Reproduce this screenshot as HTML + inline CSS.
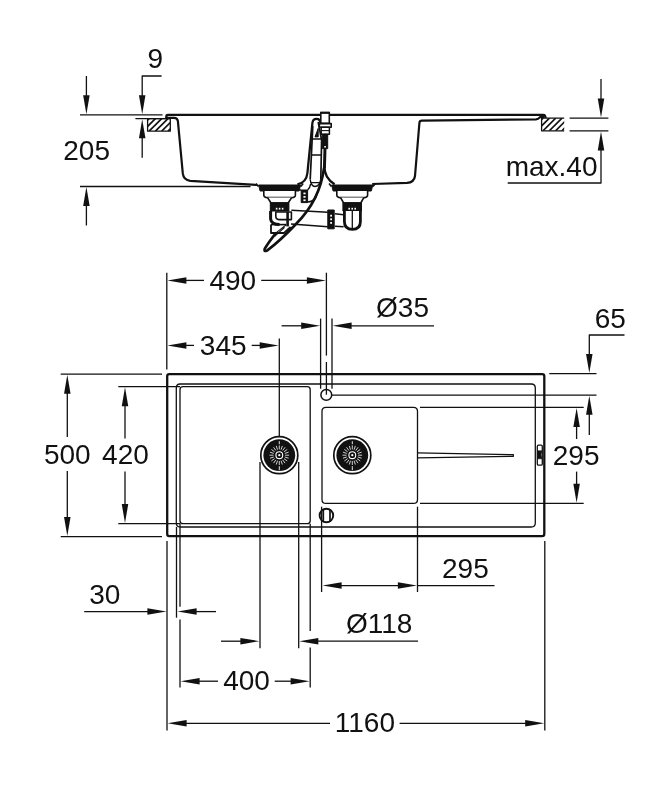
<!DOCTYPE html>
<html><head><meta charset="utf-8"><title>Sink dimensions</title>
<style>
html,body{margin:0;padding:0;background:#fff;}
body{width:667px;height:800px;overflow:hidden;}
svg{display:block;will-change:transform;}
text{font-family:"Liberation Sans",sans-serif;font-size:28px;fill:#111111;stroke:none;}
</style></head><body>
<svg width="667" height="800" viewBox="0 0 667 800" stroke="#111111" fill="none" stroke-linecap="butt" stroke-linejoin="round">
<line x1="86.4" y1="76" x2="86.4" y2="96" stroke-width="1.3" />
<polygon points="86.40,114.20 83.15,95.20 89.65,95.20" fill="#111111" stroke="none"/>
<line x1="80" y1="114.8" x2="162.5" y2="114.8" stroke-width="1.3" />
<line x1="80" y1="186.5" x2="250.5" y2="186.5" stroke-width="1.3" />
<polygon points="86.40,187.10 83.15,206.10 89.65,206.10" fill="#111111" stroke="none"/>
<line x1="86.4" y1="205" x2="86.4" y2="225.5" stroke-width="1.3" />
<text x="63.25" y="159.88">205</text>
<text x="147.5" y="68.44">9</text>
<path d="M161.6 76H142.2V96" stroke-width="1.3" fill="none" />
<polygon points="142.20,114.20 138.95,95.20 145.45,95.20" fill="#111111" stroke="none"/>
<line x1="135.4" y1="118.6" x2="170" y2="118.6" stroke-width="1.3" />
<polygon points="142.20,119.20 138.95,138.20 145.45,138.20" fill="#111111" stroke="none"/>
<line x1="142.2" y1="137" x2="142.2" y2="157.7" stroke-width="1.3" />
<clipPath id="c147"><rect x="147.6" y="118.6" width="22.700000000000017" height="12.599999999999994"/></clipPath>
<g clip-path="url(#c147)">
<line x1="136.5" y1="131.2" x2="149.1" y2="118.6" stroke-width="1.65" />
<line x1="142.8" y1="131.2" x2="155.4" y2="118.6" stroke-width="1.65" />
<line x1="149.1" y1="131.2" x2="161.7" y2="118.6" stroke-width="1.65" />
<line x1="155.4" y1="131.2" x2="168.0" y2="118.6" stroke-width="1.65" />
<line x1="161.7" y1="131.2" x2="174.3" y2="118.6" stroke-width="1.65" />
<line x1="168.0" y1="131.2" x2="180.6" y2="118.6" stroke-width="1.65" />
<line x1="174.3" y1="131.2" x2="186.9" y2="118.6" stroke-width="1.65" />
<line x1="180.6" y1="131.2" x2="193.2" y2="118.6" stroke-width="1.65" />
</g>
<path d="M170.3 118.6H147.6V131.2H170.3Z" stroke-width="1.3" fill="none" />
<line x1="601" y1="79" x2="601" y2="99" stroke-width="1.3" />
<polygon points="601.00,117.50 597.75,98.50 604.25,98.50" fill="#111111" stroke="none"/>
<line x1="569.6" y1="118.1" x2="608.4" y2="118.1" stroke-width="1.3" />
<line x1="569.6" y1="130.8" x2="608.4" y2="130.8" stroke-width="1.3" />
<polygon points="601.00,131.40 597.75,150.40 604.25,150.40" fill="#111111" stroke="none"/>
<path d="M601 149V183H507.7" stroke-width="1.3" fill="none" />
<text x="505.7" y="176.0">max.40</text>
<clipPath id="c541"><rect x="541.6" y="118.1" width="22.600000000000023" height="12.700000000000017"/></clipPath>
<g clip-path="url(#c541)">
<line x1="530.4" y1="130.8" x2="543.1" y2="118.1" stroke-width="1.65" />
<line x1="536.7" y1="130.8" x2="549.4" y2="118.1" stroke-width="1.65" />
<line x1="543.0" y1="130.8" x2="555.7" y2="118.1" stroke-width="1.65" />
<line x1="549.3" y1="130.8" x2="562.0" y2="118.1" stroke-width="1.65" />
<line x1="555.6" y1="130.8" x2="568.3" y2="118.1" stroke-width="1.65" />
<line x1="561.9" y1="130.8" x2="574.6" y2="118.1" stroke-width="1.65" />
<line x1="568.2" y1="130.8" x2="580.9" y2="118.1" stroke-width="1.65" />
<line x1="574.5" y1="130.8" x2="587.2" y2="118.1" stroke-width="1.65" />
</g>
<path d="M564.2 118.1H541.6V130.8H564.2" stroke-width="1.3" fill="none" />
<path d="M166.4 118 V116 Q166.4 114.8 168 114.8 H543.2 Q545.5 114.8 545.6 118" stroke-width="2.2" fill="none" />
<path d="M166.4 116.6 V117.9 H174 Q177.4 117.9 177.9 121.2 L182.8 173.4 Q183.6 180.2 190.2 180.8 L257 185" stroke-width="2.2" fill="none" />
<path d="M297.4 184.4 Q306.4 182.6 307.4 173 L312.4 123 Q312.8 118.8 316.5 118.8 Q320.2 118.8 320.4 123" stroke-width="2.3" fill="none" />
<path d="M312.8 126.3 L310.2 179.4 M318.2 122 L321.6 140 L320.8 179.4" stroke-width="1.7" fill="none" />
<path d="M311.6 139 H321.4 M311 155 H321.2" stroke-width="1.5" fill="none" />
<path d="M315 136.9 L318.2 128.4 L318.2 136.9 Z" stroke-width="1.0" fill="#111111" />
<path d="M310.2 179.4 Q311 186.5 315 186.5 Q319.6 186.5 320.8 179.4 M311 182.6 H320" stroke-width="1.4" fill="none" />
<path d="M320.8 112.6 H329.3 V123.4 H320.8 Z" stroke-width="1.6" fill="#fff" />
<line x1="320.2" y1="112.8" x2="329.9" y2="112.8" stroke-width="2.0" />
<path d="M319.4 123.6 H331.2 V127.3 H319.4 Z" stroke-width="1.6" fill="#fff" />
<path d="M321.2 127.3 H329.4 V134.2 H321.2 Z" stroke-width="1.5" fill="#fff" />
<line x1="321.2" y1="130.6" x2="329.4" y2="130.6" stroke-width="1.1" />
<path d="M322.4 134.2 H327.7 V148.6 H322.4 Z" stroke-width="1.0" fill="#111111" />
<rect x="324.3" y="146" width="1.6" height="1.6" fill="#fff" stroke="none"/>
<path d="M325 148 L324.4 168" stroke-width="3.0" fill="none" />
<path d="M324.4 166 Q324.2 178 334.6 184.2" stroke-width="2.3" fill="none" />
<path d="M372.2 184 L407 182.9 Q414.2 182.4 415 176 L419.4 123 Q419.6 120.7 422 120.7 L536 119.3 Q538.4 119.2 539 118 Q539.6 116.9 541.6 116.9 H544.4" stroke-width="2.2" fill="none" />
<path d="M256.0 183.6 L258.40000000000003 186.4 M303.20000000000005 183.6 L300.8 186.4" stroke-width="1.6" fill="none" />
<path d="M258.6 185 H300.6 L299.1 191 H260.1 Z" stroke-width="1.0" fill="#111111" />
<path d="M263.8 191 V195 Q263.8 197.6 267.6 197.6 H291.6 Q295.40000000000003 197.6 295.40000000000003 195 V191" stroke-width="1.6" fill="#fff" />
<path d="M267.6 197.6 L271.0 203 H288.20000000000005 L291.6 197.6" stroke-width="1.6" fill="#fff" />
<path d="M270.3 202.8 H288.90000000000003 V211 H270.3 Z" stroke-width="1.0" fill="#111111" />
<rect x="275.8" y="207.8" width="1.6" height="1.8" fill="#fff" stroke="none"/>
<rect x="278.8" y="207.8" width="1.6" height="1.8" fill="#fff" stroke="none"/>
<rect x="281.8" y="207.8" width="1.6" height="1.8" fill="#fff" stroke="none"/>
<path d="M329.0 183.6 L331.40000000000003 186.4 M375.40000000000003 183.6 L373.0 186.4" stroke-width="1.6" fill="none" />
<path d="M331.6 185 H372.8 L371.3 191 H333.1 Z" stroke-width="1.0" fill="#111111" />
<path d="M336.8 191 V195 Q336.8 197.6 340.6 197.6 H363.8 Q367.6 197.6 367.6 195 V191" stroke-width="1.6" fill="#fff" />
<path d="M340.6 197.6 L343.6 203 H360.80000000000007 L363.8 197.6" stroke-width="1.6" fill="#fff" />
<path d="M342.90000000000003 202.8 H361.50000000000006 V211 H342.90000000000003 Z" stroke-width="1.0" fill="#111111" />
<rect x="348.40000000000003" y="207.8" width="1.6" height="1.8" fill="#fff" stroke="none"/>
<rect x="351.40000000000003" y="207.8" width="1.6" height="1.8" fill="#fff" stroke="none"/>
<rect x="354.40000000000003" y="207.8" width="1.6" height="1.8" fill="#fff" stroke="none"/>
<path d="M271 224.4 V233 H284 L290.6 227" stroke-width="1.8" fill="none" />
<path d="M270.6 211 V219 Q271.4 224.6 279.6 224.6" stroke-width="3.0" fill="none" />
<path d="M275.8 212 H291.4 V219.6 H279 Q275.8 219.6 275.8 216 Z" stroke-width="1.6" fill="#fff" />
<path d="M287.6 212 V226.4" stroke-width="2.6" fill="none" />
<line x1="271" y1="224.6" x2="286" y2="224.6" stroke-width="1.6" />
<path d="M291.4 210.2 L327.8 212.2 M291 224 L327.8 226.8" stroke-width="1.5" fill="none" />
<path d="M335 213.8 L343.6 214.8 M335 226.2 L343.6 226.8" stroke-width="1.5" fill="none" />
<path d="M327.8 210 H334.2 V228.8 H327.8 Z" stroke-width="1.0" fill="#111111" />
<rect x="330.2" y="214.8" width="1.8" height="1.8" fill="#fff" stroke="none"/>
<rect x="330.2" y="218.4" width="1.8" height="1.8" fill="#fff" stroke="none"/>
<rect x="330.2" y="222.0" width="1.8" height="1.8" fill="#fff" stroke="none"/>
<path d="M344.4 211 V221.5 Q344.4 229.4 352.4 229.4 Q360.4 229.4 360.4 221.5 V211" stroke-width="2.8" fill="#fff" />
<line x1="352.3" y1="211" x2="352.3" y2="228" stroke-width="1.3" />
<path d="M301.2 190 H307.6 V202.6 H301.2 Z" stroke-width="1.0" fill="#111111" />
<rect x="303.4" y="192.6" width="2.2" height="1.7" fill="#fff" stroke="none"/>
<rect x="303.4" y="196" width="2.2" height="1.7" fill="#fff" stroke="none"/>
<rect x="303.4" y="199.4" width="2.2" height="1.7" fill="#fff" stroke="none"/>
<path d="M299.6 190 H301.2 M307.6 190 Q310 188 310.6 184 M307.6 202 Q313 202 316 197 L319 188" stroke-width="1.5" fill="none" />
<path d="M324 168 Q320 200 296 224 Q280 241 267 250.6 Q263.8 252 264.6 249 Q268 243 276.3 232.6" stroke-width="2.6" fill="none" />
<path d="M276.3 232.6 L286.4 224.6 M274.6 236.4 L284.6 227.4" stroke-width="1.2" fill="none" />
<path d="M169.3 374.2 H542.2 Q544.3 374.2 544.3 376.3 V534 Q544.3 536.1 542.2 536.1 H169.3 Q167.2 536.1 167.2 534 V376.3 Q167.2 374.2 169.3 374.2 Z" stroke-width="2.3" fill="none" />
<path d="M180.2 384 H531.3 Q535.3 384 535.3 388 V523 Q535.3 527 531.3 527 H180.2 Q176.3 527 176.3 523 V388 Q176.3 384 180.2 384 Z" stroke-width="1.3" fill="none" />
<path d="M183 386.7 H307.2 Q310.2 386.7 310.2 389.7 V520.7 Q310.2 523.7 307.2 523.7 H183 Q180 523.7 180 520.7 V389.7 Q180 386.7 183 386.7 Z" stroke-width="1.3" fill="none" />
<path d="M326 407.3 H413.5 Q417.5 407.3 417.5 411.3 V499.4 Q417.5 503.4 413.5 503.4 H326 Q322 503.4 322 499.4 V411.3 Q322 407.3 326 407.3 Z" stroke-width="1.3" fill="none" />
<line x1="420" y1="407.3" x2="583.7" y2="407.3" stroke-width="1.3" />
<line x1="420" y1="503.4" x2="583.7" y2="503.4" stroke-width="1.3" />
<circle cx="326.3" cy="394.9" r="5.4" stroke-width="1.5" fill="#fff"/>
<line x1="326.4" y1="362" x2="326.4" y2="394.7" stroke-width="1.3" />
<line x1="332" y1="395.1" x2="596.5" y2="395.1" stroke-width="1.3" />
<circle cx="326.4" cy="515.5" r="6.8" stroke-width="1.9" fill="#fff"/>
<line x1="323.3" y1="509.6" x2="323.3" y2="521.4" stroke-width="1.7" />
<line x1="330.0" y1="509.6" x2="330.0" y2="521.4" stroke-width="1.7" />
<path d="M417.5 452.9 L513.4 454.7 V456.3 L417.5 457.9" stroke-width="1.25" fill="none" />
<rect x="537.3" y="445.2" width="5" height="20" rx="1.2" stroke-width="1.3" fill="#fff"/>
<path d="M537.6 450.8 H542 L541 454.8 L542 458.8 H537.6 Z" stroke-width="0.6" fill="#111111" />
<circle cx="279.3" cy="455.2" r="18.5" stroke-width="1.7" fill="#fff"/>
<circle cx="279.3" cy="455.2" r="15.9" stroke="none" fill="#111111"/>
<line x1="285.10" y1="455.20" x2="289.10" y2="455.20" stroke="#fff" stroke-width="0.8"/>
<line x1="284.82" y1="456.99" x2="288.62" y2="458.23" stroke="#fff" stroke-width="0.8"/>
<line x1="283.99" y1="458.61" x2="287.23" y2="460.96" stroke="#fff" stroke-width="0.8"/>
<line x1="282.71" y1="459.89" x2="285.06" y2="463.13" stroke="#fff" stroke-width="0.8"/>
<line x1="281.09" y1="460.72" x2="282.33" y2="464.52" stroke="#fff" stroke-width="0.8"/>
<line x1="279.30" y1="461.00" x2="279.30" y2="465.00" stroke="#fff" stroke-width="0.8"/>
<line x1="277.51" y1="460.72" x2="276.27" y2="464.52" stroke="#fff" stroke-width="0.8"/>
<line x1="275.89" y1="459.89" x2="273.54" y2="463.13" stroke="#fff" stroke-width="0.8"/>
<line x1="274.61" y1="458.61" x2="271.37" y2="460.96" stroke="#fff" stroke-width="0.8"/>
<line x1="273.78" y1="456.99" x2="269.98" y2="458.23" stroke="#fff" stroke-width="0.8"/>
<line x1="273.50" y1="455.20" x2="269.50" y2="455.20" stroke="#fff" stroke-width="0.8"/>
<line x1="273.78" y1="453.41" x2="269.98" y2="452.17" stroke="#fff" stroke-width="0.8"/>
<line x1="274.61" y1="451.79" x2="271.37" y2="449.44" stroke="#fff" stroke-width="0.8"/>
<line x1="275.89" y1="450.51" x2="273.54" y2="447.27" stroke="#fff" stroke-width="0.8"/>
<line x1="277.51" y1="449.68" x2="276.27" y2="445.88" stroke="#fff" stroke-width="0.8"/>
<line x1="279.30" y1="449.40" x2="279.30" y2="445.40" stroke="#fff" stroke-width="0.8"/>
<line x1="281.09" y1="449.68" x2="282.33" y2="445.88" stroke="#fff" stroke-width="0.8"/>
<line x1="282.71" y1="450.51" x2="285.06" y2="447.27" stroke="#fff" stroke-width="0.8"/>
<line x1="283.99" y1="451.79" x2="287.23" y2="449.44" stroke="#fff" stroke-width="0.8"/>
<line x1="284.82" y1="453.41" x2="288.62" y2="452.17" stroke="#fff" stroke-width="0.8"/>
<circle cx="279.3" cy="455.2" r="3.4" stroke="#fff" stroke-width="1.1" fill="#111111"/>
<circle cx="279.3" cy="455.2" r="1.1" stroke="none" fill="#fff"/>
<line x1="279.3" y1="466.2" x2="279.3" y2="470.2" stroke="#fff" stroke-width="0.9"/>
<line x1="279.3" y1="444.2" x2="279.3" y2="441.2" stroke="#fff" stroke-width="0.9"/>
<circle cx="352.3" cy="455.2" r="18.5" stroke-width="1.7" fill="#fff"/>
<circle cx="352.3" cy="455.2" r="15.9" stroke="none" fill="#111111"/>
<line x1="358.10" y1="455.20" x2="362.10" y2="455.20" stroke="#fff" stroke-width="0.8"/>
<line x1="357.82" y1="456.99" x2="361.62" y2="458.23" stroke="#fff" stroke-width="0.8"/>
<line x1="356.99" y1="458.61" x2="360.23" y2="460.96" stroke="#fff" stroke-width="0.8"/>
<line x1="355.71" y1="459.89" x2="358.06" y2="463.13" stroke="#fff" stroke-width="0.8"/>
<line x1="354.09" y1="460.72" x2="355.33" y2="464.52" stroke="#fff" stroke-width="0.8"/>
<line x1="352.30" y1="461.00" x2="352.30" y2="465.00" stroke="#fff" stroke-width="0.8"/>
<line x1="350.51" y1="460.72" x2="349.27" y2="464.52" stroke="#fff" stroke-width="0.8"/>
<line x1="348.89" y1="459.89" x2="346.54" y2="463.13" stroke="#fff" stroke-width="0.8"/>
<line x1="347.61" y1="458.61" x2="344.37" y2="460.96" stroke="#fff" stroke-width="0.8"/>
<line x1="346.78" y1="456.99" x2="342.98" y2="458.23" stroke="#fff" stroke-width="0.8"/>
<line x1="346.50" y1="455.20" x2="342.50" y2="455.20" stroke="#fff" stroke-width="0.8"/>
<line x1="346.78" y1="453.41" x2="342.98" y2="452.17" stroke="#fff" stroke-width="0.8"/>
<line x1="347.61" y1="451.79" x2="344.37" y2="449.44" stroke="#fff" stroke-width="0.8"/>
<line x1="348.89" y1="450.51" x2="346.54" y2="447.27" stroke="#fff" stroke-width="0.8"/>
<line x1="350.51" y1="449.68" x2="349.27" y2="445.88" stroke="#fff" stroke-width="0.8"/>
<line x1="352.30" y1="449.40" x2="352.30" y2="445.40" stroke="#fff" stroke-width="0.8"/>
<line x1="354.09" y1="449.68" x2="355.33" y2="445.88" stroke="#fff" stroke-width="0.8"/>
<line x1="355.71" y1="450.51" x2="358.06" y2="447.27" stroke="#fff" stroke-width="0.8"/>
<line x1="356.99" y1="451.79" x2="360.23" y2="449.44" stroke="#fff" stroke-width="0.8"/>
<line x1="357.82" y1="453.41" x2="361.62" y2="452.17" stroke="#fff" stroke-width="0.8"/>
<circle cx="352.3" cy="455.2" r="3.4" stroke="#fff" stroke-width="1.1" fill="#111111"/>
<circle cx="352.3" cy="455.2" r="1.1" stroke="none" fill="#fff"/>
<line x1="352.3" y1="466.2" x2="352.3" y2="470.2" stroke="#fff" stroke-width="0.9"/>
<line x1="352.3" y1="444.2" x2="352.3" y2="441.2" stroke="#fff" stroke-width="0.9"/>
<line x1="166.8" y1="272.7" x2="166.8" y2="369.6" stroke-width="1.3" />
<polygon points="167.40,280.40 186.40,277.15 186.40,283.65" fill="#111111" stroke="none"/>
<line x1="186" y1="280.4" x2="204" y2="280.4" stroke-width="1.3" />
<text x="209.4" y="290.34">490</text>
<line x1="261.2" y1="280.4" x2="308" y2="280.4" stroke-width="1.3" />
<polygon points="325.90,280.40 306.90,277.15 306.90,283.65" fill="#111111" stroke="none"/>
<line x1="326.4" y1="272.7" x2="326.4" y2="355.6" stroke-width="1.3" />
<polygon points="167.40,345.40 186.40,342.15 186.40,348.65" fill="#111111" stroke="none"/>
<line x1="186" y1="345.4" x2="194" y2="345.4" stroke-width="1.3" />
<text x="199.85" y="354.66">345</text>
<line x1="251.7" y1="345.4" x2="260" y2="345.4" stroke-width="1.3" />
<polygon points="278.70,345.40 259.70,342.15 259.70,348.65" fill="#111111" stroke="none"/>
<line x1="279.3" y1="338.5" x2="279.3" y2="437" stroke-width="1.3" />
<line x1="320.6" y1="318.6" x2="320.6" y2="388.7" stroke-width="1.3" />
<line x1="332" y1="318.6" x2="332" y2="388.7" stroke-width="1.3" />
<line x1="281.6" y1="325.8" x2="302" y2="325.8" stroke-width="1.3" />
<polygon points="320.20,325.80 301.20,322.55 301.20,329.05" fill="#111111" stroke="none"/>
<polygon points="332.60,325.80 351.60,322.55 351.60,329.05" fill="#111111" stroke="none"/>
<line x1="351" y1="325.8" x2="434" y2="325.8" stroke-width="1.3" />
<text x="376.05" y="316.86">Ø35</text>
<text x="594.75" y="328.12">65</text>
<path d="M624.5 335 H589.3 V355" stroke-width="1.3" fill="none" />
<polygon points="589.30,373.10 586.05,354.10 592.55,354.10" fill="#111111" stroke="none"/>
<line x1="549.3" y1="373.7" x2="596.5" y2="373.7" stroke-width="1.3" />
<polygon points="589.30,395.70 586.05,414.70 592.55,414.70" fill="#111111" stroke="none"/>
<line x1="589.3" y1="414" x2="589.3" y2="434.9" stroke-width="1.3" />
<polygon points="576.60,407.90 573.35,426.90 579.85,426.90" fill="#111111" stroke="none"/>
<line x1="576.6" y1="426" x2="576.6" y2="439" stroke-width="1.3" />
<text x="552.75" y="465.44">295</text>
<line x1="576.6" y1="471.6" x2="576.6" y2="484.5" stroke-width="1.3" />
<polygon points="576.60,502.80 573.35,483.80 579.85,483.80" fill="#111111" stroke="none"/>
<line x1="60.7" y1="374.1" x2="162" y2="374.1" stroke-width="1.3" />
<line x1="60.7" y1="536.7" x2="162" y2="536.7" stroke-width="1.3" />
<polygon points="67.30,374.70 64.05,393.70 70.55,393.70" fill="#111111" stroke="none"/>
<line x1="67.3" y1="393" x2="67.3" y2="437" stroke-width="1.3" />
<line x1="67.3" y1="471" x2="67.3" y2="518" stroke-width="1.3" />
<polygon points="67.30,536.10 64.05,517.10 70.55,517.10" fill="#111111" stroke="none"/>
<text x="43.9" y="463.66">500</text>
<line x1="118.3" y1="386.7" x2="180" y2="386.7" stroke-width="1.3" />
<line x1="118.3" y1="523.7" x2="180" y2="523.7" stroke-width="1.3" />
<polygon points="125.00,387.30 121.75,406.30 128.25,406.30" fill="#111111" stroke="none"/>
<line x1="125" y1="406" x2="125" y2="438.4" stroke-width="1.3" />
<line x1="125" y1="471.5" x2="125" y2="505" stroke-width="1.3" />
<polygon points="125.00,523.10 121.75,504.10 128.25,504.10" fill="#111111" stroke="none"/>
<text x="102.1" y="463.66">420</text>
<line x1="167" y1="541" x2="167" y2="730.4" stroke-width="1.3" />
<line x1="544.8" y1="541" x2="544.8" y2="730.4" stroke-width="1.3" />
<line x1="176.5" y1="527" x2="176.5" y2="617.7" stroke-width="1.3" />
<line x1="180" y1="523.7" x2="180" y2="606.8" stroke-width="1.3" />
<line x1="180" y1="619.5" x2="180" y2="687.6" stroke-width="1.3" />
<line x1="260" y1="462" x2="260" y2="648.3" stroke-width="1.3" />
<line x1="298.7" y1="462" x2="298.7" y2="648.3" stroke-width="1.3" />
<line x1="310.2" y1="523.7" x2="310.2" y2="631" stroke-width="1.3" />
<line x1="310.2" y1="647.6" x2="310.2" y2="687.6" stroke-width="1.3" />
<line x1="321.6" y1="506.7" x2="321.6" y2="592" stroke-width="1.3" />
<line x1="417.5" y1="506.7" x2="417.5" y2="592" stroke-width="1.3" />
<text x="89.2" y="604.34">30</text>
<line x1="84.2" y1="611.6" x2="149" y2="611.6" stroke-width="1.3" />
<polygon points="166.40,611.60 147.40,608.35 147.40,614.85" fill="#111111" stroke="none"/>
<polygon points="177.60,611.60 196.60,608.35 196.60,614.85" fill="#111111" stroke="none"/>
<line x1="196" y1="611.6" x2="216" y2="611.6" stroke-width="1.3" />
<polygon points="322.60,585.60 341.60,582.35 341.60,588.85" fill="#111111" stroke="none"/>
<line x1="341" y1="585.6" x2="399" y2="585.6" stroke-width="1.3" />
<polygon points="416.90,585.60 397.90,582.35 397.90,588.85" fill="#111111" stroke="none"/>
<line x1="417.5" y1="585.6" x2="494.5" y2="585.6" stroke-width="1.3" />
<text x="442.05" y="578.34">295</text>
<line x1="221" y1="641.2" x2="241" y2="641.2" stroke-width="1.3" />
<polygon points="259.40,641.20 240.40,637.95 240.40,644.45" fill="#111111" stroke="none"/>
<polygon points="299.30,641.20 318.30,637.95 318.30,644.45" fill="#111111" stroke="none"/>
<line x1="318" y1="641.2" x2="418" y2="641.2" stroke-width="1.3" />
<text x="345.9" y="632.64">Ø118</text>
<polygon points="180.60,681.20 199.60,677.95 199.60,684.45" fill="#111111" stroke="none"/>
<line x1="199" y1="681.2" x2="218" y2="681.2" stroke-width="1.3" />
<text x="223.2" y="690.1">400</text>
<line x1="274.7" y1="681.2" x2="291" y2="681.2" stroke-width="1.3" />
<polygon points="309.60,681.20 290.60,677.95 290.60,684.45" fill="#111111" stroke="none"/>
<polygon points="167.60,723.30 186.60,720.05 186.60,726.55" fill="#111111" stroke="none"/>
<line x1="186" y1="723.3" x2="330" y2="723.3" stroke-width="1.3" />
<text x="334.8" y="732.44">1160</text>
<line x1="399.6" y1="723.3" x2="526" y2="723.3" stroke-width="1.3" />
<polygon points="544.20,723.30 525.20,720.05 525.20,726.55" fill="#111111" stroke="none"/>
</svg>
</body></html>
